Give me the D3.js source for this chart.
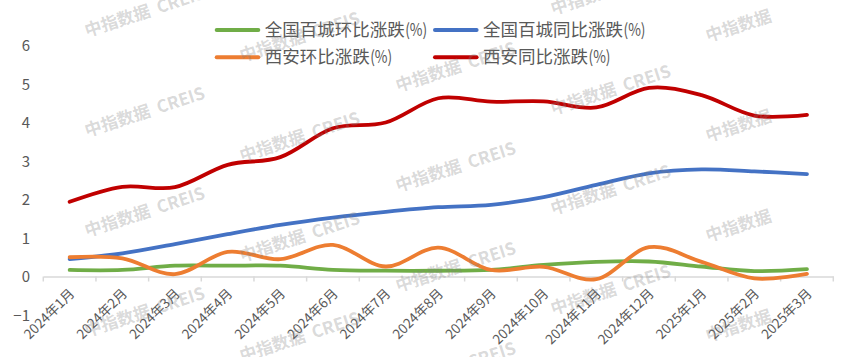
<!DOCTYPE html>
<html>
<head>
<meta charset="utf-8">
<script src="https://cdn.jsdelivr.net/npm/d3@7"></script>
<style>
  html, body { margin: 0; padding: 0; background: #fff; }
  svg { display: block; }
</style>
</head>
<body>
<svg id="chart" width="841" height="357"></svg>
<script>
const categories = ["2024年1月","2024年2月","2024年3月","2024年4月","2024年5月","2024年6月","2024年7月","2024年8月","2024年9月","2024年10月","2024年11月","2024年12月","2025年1月","2025年2月","2025年3月"];
const nationalMoM = [0.17,0.17,0.28,0.28,0.28,0.17,0.15,0.15,0.17,0.30,0.38,0.39,0.26,0.14,0.19];
const nationalYoY = [0.45,0.60,0.84,1.10,1.34,1.53,1.68,1.80,1.86,2.06,2.38,2.68,2.78,2.73,2.66];
const xianMoM = [0.50,0.47,0.06,0.64,0.45,0.82,0.26,0.75,0.17,0.25,-0.07,0.76,0.38,-0.05,0.07];
const xianYoY = [1.94,2.33,2.32,2.90,3.10,3.85,4.00,4.63,4.54,4.55,4.39,4.90,4.71,4.18,4.20];
const yTicks = [-1,0,1,2,3,4,5,6];
const seriesNames = ["全国百城环比涨跌","全国百城同比涨跌","西安环比涨跌","西安同比涨跌"];
const unitLabel = "(%)";
const seriesColors = ["#70AD47","#4472C4","#ED7D31","#C00000"];

const series = [
  {name: seriesNames[0], color: seriesColors[0], values: nationalMoM},
  {name: seriesNames[1], color: seriesColors[1], values: nationalYoY},
  {name: seriesNames[2], color: seriesColors[2], values: xianMoM},
  {name: seriesNames[3], color: seriesColors[3], values: xianYoY}
];

const svg = d3.select("#chart");
const FONT = "'Noto Sans CJK SC', 'Noto Sans', sans-serif";
const TXT = "#595959";

const x = d3.scaleBand().domain(categories).range([43.3, 833.3]).padding(0);
const y = d3.scaleLinear().domain([-1, 6]).range([315, 45.5]);
const cx = c => x(c) + x.bandwidth() / 2;

// Y axis labels (no line)
const yAxis = d3.axisLeft(y).tickValues(yTicks).tickSize(0).tickPadding(0).tickFormat(d3.format("d"));
const gy = svg.append("g").attr("transform", "translate(30,0)").call(yAxis);
gy.select(".domain").remove();
gy.selectAll("text")
  .attr("x", 0).attr("dy", "0.35em")
  .attr("fill", TXT).style("font-family", FONT).style("font-size", "15px");

// X axis
const xAxis = d3.axisBottom(x).tickSize(0).tickPadding(0);
const gx = svg.append("g").attr("transform", `translate(0,${y(0)})`).call(xAxis);
gx.select(".domain").attr("stroke", "#d9d9d9").attr("stroke-width", 1.5);
gx.selectAll(".tick text")
  .attr("y", 0).attr("dy", "0.35em")
  .attr("text-anchor", "end")
  .attr("transform", "translate(2.4,14.5) rotate(-45)")
  .attr("fill", TXT).style("font-family", FONT).style("font-size", "13.5px");
// boundary tick marks
const bounds = categories.map(c => x(c)).concat([x.range()[1]]);
gx.selectAll("line.bound").data(bounds).enter().append("line")
  .attr("class", "bound")
  .attr("x1", d => d).attr("x2", d => d)
  .attr("y1", 0).attr("y2", 5)
  .attr("stroke", "#d9d9d9").attr("stroke-width", 1.5);

// Lines
const line = d3.line()
  .x((d, i) => cx(categories[i]))
  .y(d => y(d))
  .curve(d3.curveCardinal.tension(0));

svg.append("g").selectAll("path.series").data(series).enter().append("path")
  .attr("class", "series")
  .attr("d", d => line(d.values))
  .attr("fill", "none")
  .attr("stroke", d => d.color)
  .attr("stroke-width", 3.8)
  .attr("stroke-linecap", "round")
  .attr("stroke-linejoin", "round");

// Legend
const legendPos = [
  {lx: 216.7, ly: 30},
  {lx: 435, ly: 30},
  {lx: 216.7, ly: 57.3},
  {lx: 435, ly: 57.3}
];
const lg = svg.append("g").selectAll("g").data(series).enter().append("g")
  .attr("transform", (d, i) => `translate(${legendPos[i].lx},${legendPos[i].ly})`);
lg.append("line")
  .attr("x1", 0).attr("x2", 41.6).attr("y1", 0).attr("y2", 0)
  .attr("stroke", d => d.color).attr("stroke-width", 4).attr("stroke-linecap", "round");
lg.each(function(d) {
  const g = d3.select(this);
  const t = g.append("text")
    .attr("x", 48).attr("y", 0).attr("dy", "0.35em")
    .attr("fill", TXT).style("font-family", FONT).style("font-size", "17.5px")
    .text(d.name);
  const w = t.node().getComputedTextLength();
  g.append("text")
    .attr("x", 48 + w + 0.5).attr("y", 0).attr("dy", "0.35em")
    .attr("textLength", 22).attr("lengthAdjust", "spacingAndGlyphs")
    .attr("fill", TXT).style("font-family", FONT).style("font-size", "17px")
    .text(unitLabel);
});

// Watermarks
const wmCols = [
  {x: 87, ys: [37, 137, 237, 337], text: "中指数据 CREIS"},
  {x: 242, ys: [62, 162, 262, 362], text: "中指数据 CREIS"},
  {x: 398, ys: [-8, 92, 192, 292, 392], text: "中指数据 CREIS"},
  {x: 553, ys: [15, 115, 215, 315], text: "中指数据 CREIS"},
  {x: 708, ys: [42, 142, 242, 342], text: "中指数据"}
];
const wmData = [];
wmCols.forEach(c => c.ys.forEach(yy => wmData.push({x: c.x, y: yy, text: c.text})));
svg.append("g").selectAll("text").data(wmData).enter().append("text")
  .attr("transform", d => `translate(${d.x},${d.y}) rotate(-18)`)
  .attr("fill", "#808080").attr("fill-opacity", 0.3)
  .style("font-family", FONT).style("font-size", "17px").style("font-weight", "bold")
  .style("white-space", "pre")
  .text(d => d.text.replace(" ", "  "));
</script>
</body>
</html>
